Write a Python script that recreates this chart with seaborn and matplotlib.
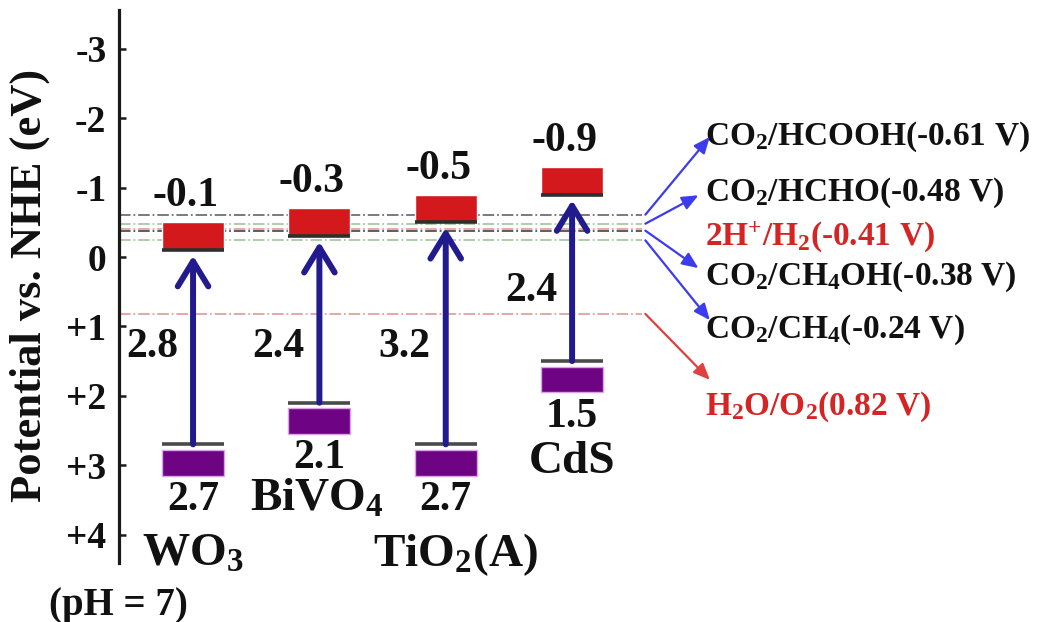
import matplotlib
matplotlib.use("Agg")
import matplotlib.pyplot as plt
import seaborn as sns
import numpy as np

# ---------------- data ----------------
materials = ["WO$_3$", "BiVO$_4$", "TiO$_2$(A)", "CdS"]
cb = [-0.1, -0.3, -0.5, -0.9]          # conduction band edge (eV vs NHE)
vb = [2.7, 2.1, 2.7, 1.5]              # valence band edge
gap = [2.8, 2.4, 3.2, 2.4]             # band gap
cb_labels = ["-0.1", "-0.3", "-0.5", "-0.9"]
vb_labels = ["2.7", "2.1", "2.7", "1.5"]
gap_labels = ["2.8", "2.4", "3.2", "2.4"]

reactions = ["CO$_2$/HCOOH(-0.61 V)", "CO$_2$/HCHO(-0.48 V)", "2H$^{+}$/H$_2$(-0.41 V)",
             "CO$_2$/CH$_4$OH(-0.38 V)", "CO$_2$/CH$_4$(-0.24 V)", "H$_2$O/O$_2$(0.82 V)"]
reaction_potentials = [-0.61, -0.48, -0.41, -0.38, -0.24, 0.82]

yticks = [-3, -2, -1, 0, 1, 2, 3, 4]
ytick_labels = ["-3", "-2", "-1", "0", "+1", "+2", "+3", "+4"]

# ---------------- style ----------------
sns.set_theme(style="white")
plt.rcParams["font.family"] = ["Liberation Serif", "DejaVu Serif"]
plt.rcParams["font.weight"] = "bold"
plt.rcParams["mathtext.fontset"] = "custom"
plt.rcParams["mathtext.rm"] = "Liberation Serif:bold"
plt.rcParams["mathtext.bf"] = "Liberation Serif:bold"
plt.rcParams["mathtext.it"] = "Liberation Serif:bold:italic"
plt.rcParams["mathtext.default"] = "regular"

RED = "#d3191c"
PURPLE = "#6e0384"
NAVY = "#221b8e"
BLUE = "#3c3cec"
LRED = "#e04040"
TXTRED = "#d42424"

fig = plt.figure(figsize=(10.56, 6.22), dpi=100)
ax = fig.add_axes([119 / 1056, 1 - 563 / 622, (1056 - 119) / 1056, (563 - 10) / 622])
ax.set_facecolor("white")

xpos = np.arange(len(materials))
xleft, xright = -0.586, 6.83
ax.set_xlim(xleft, xright)
ax.set_ylim(4.41, -3.56)

# reaction potential reference lines
line_colors = ["#6f6f6f", "#a9c9a0", "#e6a0a0", "#505050", "#a9c9a0", "#e3a0a0"]
ax.hlines(reaction_potentials, xleft, 3.55, colors=line_colors, linestyles="-.",
          linewidth=1.3, zorder=1)

# boxes
bw = 0.49
box_h = 0.4
ax.bar(xpos, [-box_h] * len(cb), bottom=cb, width=bw, color=RED, zorder=3)
ax.hlines(cb, xpos - bw / 2, xpos + bw / 2, colors="#2e2e2e", linewidth=2.6, zorder=4)
vb_gap = 0.08
ax.bar(xpos, [0.37] * len(vb), bottom=[v + vb_gap for v in vb], width=bw,
       color=PURPLE, edgecolor="#d9a3e6", linewidth=1.0, zorder=3)
ax.hlines(vb, xpos - bw / 2, xpos + bw / 2, colors="#4a4a4a", linewidth=2.6, zorder=4)

# excitation arrows
for x, c, v in zip(xpos, cb, vb):
    ax.annotate("", xy=(x, c + 0.08), xytext=(x, v),
                arrowprops=dict(arrowstyle="->,head_length=0.9,head_width=0.55",
                                color=NAVY, lw=4.3, shrinkA=0, shrinkB=0,
                                mutation_scale=20), zorder=5)

# text labels
NUM = 30
for x, c, lab in zip(xpos, cb, cb_labels):
    ax.text(x - 0.06, c - 0.63, lab, ha="center", va="baseline", fontsize=NUM,
            fontweight="bold", color="#111111")
for x, v, lab in zip(xpos, vb, vb_labels):
    ax.text(x, v + 0.8, lab, ha="center", va="center", fontsize=NUM,
            fontweight="bold", color="#111111")
gap_label_y = [1.3, 1.3, 1.3, 0.49]
for x, gy, lab in zip(xpos, gap_label_y, gap_labels):
    ax.text(x - 0.12, gy, lab, ha="right", va="center", fontsize=NUM,
            fontweight="bold", color="#111111")
name_y = [4.29, 3.5, 4.29, 2.95]
name_dx = [0.0, -0.02, 0.08, 0.0]
for x, ny, dx, lab in zip(xpos, name_y, name_dx, materials):
    ax.text(x + dx, ny, lab, ha="center", va="center", fontsize=34,
            fontweight="bold", color="#111111")

# reaction labels + arrows
label_x = 4.05
label_y = [-1.74, -0.92, -0.29, 0.29, 1.05, 2.16]
label_colors = ["#111111", "#111111", TXTRED, "#111111", "#111111", TXTRED]
arrow_end = [(4.09, -1.73), (4.0, -0.89), None, (4.0, 0.16), (4.09, 0.91), (4.09, 1.77)]
arrow_colors = [BLUE, BLUE, None, BLUE, BLUE, LRED]
for txt, ly, lc in zip(reactions, label_y, label_colors):
    ax.text(label_x, ly, txt, ha="left", va="center", fontsize=24,
            fontweight="bold", color=lc)
for p, end, ac in zip(reaction_potentials, arrow_end, arrow_colors):
    if end is None:
        continue
    ax.annotate("", xy=end, xytext=(3.58, p),
                arrowprops=dict(arrowstyle="-|>,head_length=0.7,head_width=0.3",
                                color=ac, lw=1.6, shrinkA=0, shrinkB=0,
                                mutation_scale=14))

# axes styling
sns.despine(ax=ax, top=True, right=True, bottom=True, left=False)
ax.spines["left"].set_linewidth(2.3)
ax.spines["left"].set_color("#1a1a1a")
ax.set_xticks([])
ax.set_yticks(yticks)
ax.set_yticklabels(ytick_labels, fontsize=27, fontweight="bold", color="#111111")
ax.tick_params(axis="y", direction="in", length=5, width=1.8, color="#1a1a1a",
               pad=9, left=True)
ax.grid(False)

fig.text(30 / 1056, 1 - 285 / 622, "Potential vs. NHE (eV)", rotation=90,
         ha="center", va="center", fontsize=32, fontweight="bold", color="#111111")
fig.text(118 / 1056, 1 - 605 / 622, "(pH = 7)", ha="center", va="center",
         fontsize=28, fontweight="bold", color="#111111")

fig.savefig("out.png", dpi=100, facecolor="white")
